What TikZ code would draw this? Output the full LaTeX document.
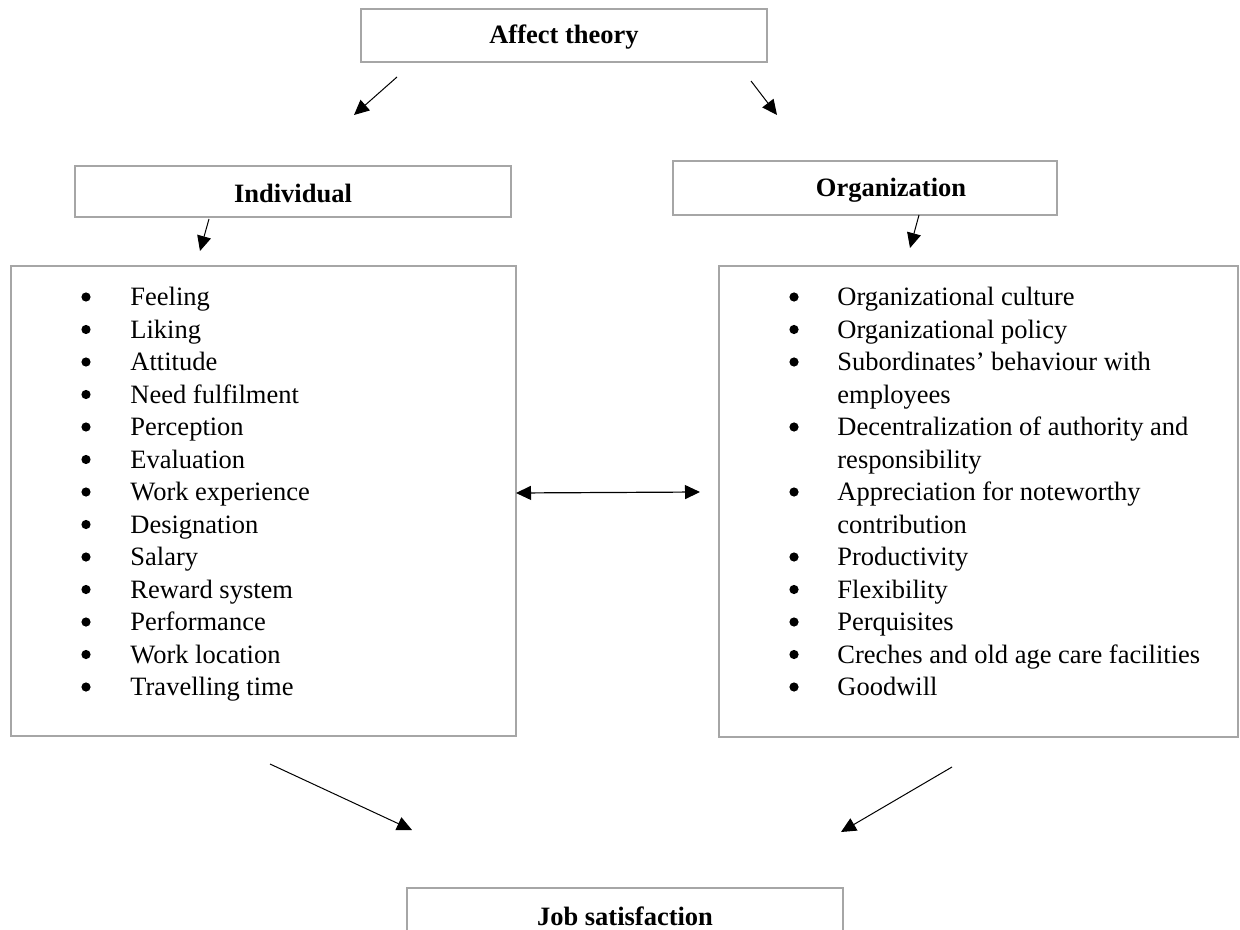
\documentclass[tikz,border=0pt]{standalone}
\usepackage{fontspec}
\setmainfont{Liberation Serif}
\usetikzlibrary{arrows.meta,fit}
\newcommand\txtsize{\fontsize{13.25pt}{16.25pt}\selectfont}
\definecolor{boxgray}{HTML}{A6A6A6}
\begin{document}
\begin{tikzpicture}[x=0.5pt,y=-0.5pt,
  box/.style={draw=boxgray,line width=1pt,inner sep=0pt,outer sep=0pt},
  head/.style={font=\txtsize\bfseries,inner sep=0pt},
  item/.style={font=\txtsize,inner sep=0pt,anchor=base west},
  bul/.style={circle,fill=black,inner sep=0pt,minimum size=4.6pt},
  tip/.style={-{Triangle[length=7.5pt,width=7pt]}},
  arr/.style={line width=0.5pt,tip}]
\clip (0,0) rectangle (1240,930);
\fill[white] (0,0) rectangle (1240,930);

% boxes
\node[box,fit={(361,9)(767,62)}] (aff) {};
\node[head] (afft) at (564,37) {Affect theory};
\node[box,fit={(75,166)(511,217)}] (ind) {};
\node[head] (indt) at (293,193) {Individual};
\node[box,fit={(673,161)(1057,215)}] (org) {};
\node[head] (orgt) at (891,190) {Organization};
\node[box,fit={(11,266)(516,736)}] (lbox) {};
\node[box,fit={(719,266)(1238,737)}] (rbox) {};
\node[box,fit={(407,888)(843,950)}] (job) {};
\node[head] (jobt) at (625,916) {Job satisfaction};

% arrow end points
\coordinate (a1s) at (397,77);  \coordinate (a1e) at (354,115);
\coordinate (a2s) at (751,81);  \coordinate (a2e) at (777,115);
\coordinate (a3s) at (209,219); \coordinate (a3e) at (200,251);
\coordinate (a4s) at (919,215); \coordinate (a4e) at (910,248);
\coordinate (a5s) at (270,764); \coordinate (a5e) at (412,830);
\coordinate (a6s) at (952,767); \coordinate (a6e) at (841,832);
\coordinate (dl) at (516,493);  \coordinate (dr) at (700,492);

\draw[arr] (a1s) -- (a1e);
\draw[arr] (a2s) -- (a2e);
\draw[arr] (a3s) -- (a3e);
\draw[arr] (a4s) -- (a4e);
\draw[arr] (a5s) -- (a5e);
\draw[arr] (a6s) -- (a6e);
\draw[line width=0.6pt,{Triangle[length=7.5pt,width=7pt]}-{Triangle[length=7.5pt,width=7pt]}] (dl) -- (dr);

% left list
\foreach \t [count=\i] in {Feeling,Liking,Attitude,Need fulfilment,Perception,Evaluation,Work experience,Designation,Salary,Reward system,Performance,Work location,Travelling time}{
  \node[bul] (LB\i) at (86,{297+(\i-1)*32.5}) {};
  \node[item] (L\i) at (130,{305.5+(\i-1)*32.5}) {\t};
}

% right list
\foreach \b/\t [count=\i] in {1/Organizational culture,1/Organizational policy,1/Subordinates’ behaviour with,0/employees,1/Decentralization of authority and,0/responsibility,1/Appreciation for noteworthy,0/contribution,1/Productivity,1/Flexibility,1/Perquisites,1/Creches and old age care facilities,1/Goodwill}{
  \ifnum\b=1
    \node[bul] (RB\i) at (794,{297+(\i-1)*32.5}) {};
  \fi
  \node[item] (R\i) at (837,{305.5+(\i-1)*32.5}) {\t};
}
\end{tikzpicture}
\end{document}
